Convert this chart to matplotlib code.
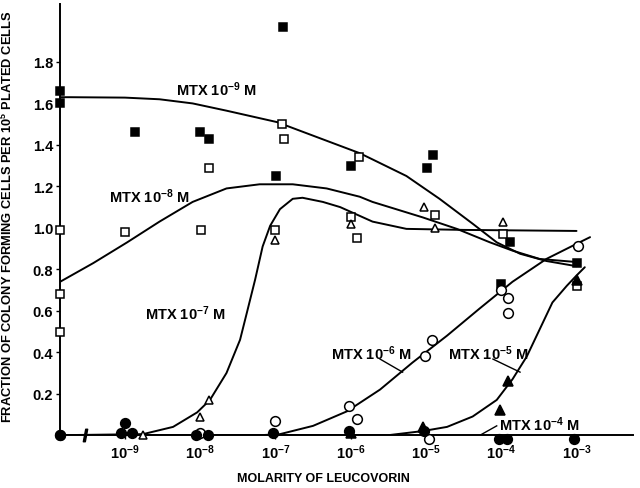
import numpy as np
import matplotlib
matplotlib.use("Agg")
import matplotlib.pyplot as plt

plt.rcParams['font.family'] = ['Liberation Sans', 'DejaVu Sans']
plt.rcParams['font.weight'] = 'bold'
plt.rcParams['axes.labelweight'] = 'bold'
plt.rcParams['mathtext.default'] = 'regular'

# x position used for the "no leucovorin" controls (drawn on the y axis)
ctrl = 10 ** -9.86

# measured points: (log10 molarity or None for control, fraction)
mtx9_x = [None, None, -8.87, -8.0, -7.88, -6.9, -6.99, -6.0, -4.91, -4.99, -3.89, -4.0, -3.0]
mtx9_y = [1.66, 1.60, 1.46, 1.46, 1.43, 1.97, 1.25, 1.30, 1.35, 1.29, 0.93, 0.73, 0.83]

mtx8_x = [None, None, None, -9.0, -7.99, -7.88, -6.91, -6.89, -7.0, -5.89, -6.0, -5.92, -4.88, -3.98, -3.0]
mtx8_y = [0.99, 0.68, 0.50, 0.98, 0.99, 1.29, 1.50, 1.43, 0.99, 1.34, 1.05, 0.95, 1.06, 0.97, 0.72]

mtx7_x = [-7.0, -7.88, -8.0, -8.76, -6.0, -5.02, -4.88, -3.98]
mtx7_y = [0.94, 0.17, 0.09, 0.0, 1.02, 1.10, 1.0, 1.03]

mtx6_x = [None, -7.0, -8.0, -6.02, -5.92, -4.92, -5.01, -4.0, -3.91, -3.91, -2.98, -4.96]
mtx6_y = [0.0, 0.07, 0.01, 0.14, 0.08, 0.46, 0.38, 0.70, 0.66, 0.59, 0.91, -0.02]

mtx5_x = [-3.91, -4.02, -3.0, -5.04, -6.0]
mtx5_y = [0.26, 0.12, 0.75, 0.04, 0.01]

mtx4_x = [None, -9.0, -8.9, -9.05, -8.05, -7.9, -7.03, -6.02, -5.03, -4.03, -3.93, -3.03]
mtx4_y = [0.0, 0.06, 0.01, 0.01, 0.0, 0.0, 0.01, 0.02, 0.02, -0.02, -0.02, -0.02]

# fitted curves (log10 molarity, fraction)
c9_x = [-9.86, -9.73, -9.0, -8.54, -8.10, -7.65, -6.98, -6.32, -5.88, -5.71, -5.26, -4.82, -4.38, -4.06, -3.75, -3.40, -3.0]
c9_y = [1.63, 1.63, 1.628, 1.62, 1.60, 1.565, 1.51, 1.42, 1.36, 1.33, 1.25, 1.14, 1.02, 0.93, 0.875, 0.84, 0.815]

c8_x = [-9.86, -9.42, -8.97, -8.54, -8.10, -7.65, -7.21, -6.77, -6.32, -5.88, -5.71, -5.04, -4.59, -4.15, -3.85, -3.49, -3.0]
c8_y = [0.74, 0.83, 0.93, 1.03, 1.125, 1.19, 1.21, 1.21, 1.19, 1.15, 1.125, 1.05, 0.995, 0.93, 0.89, 0.85, 0.835]

c7_x = [-9.86, -8.76, -8.36, -8.04, -7.87, -7.65, -7.47, -7.38, -7.27, -7.17, -7.07, -6.94, -6.77, -6.64,
        -6.37, -6.14, -5.71, -5.26, -4.5, -3.0]
c7_y = [0.0, 0.005, 0.04, 0.11, 0.17, 0.30, 0.46, 0.59, 0.75, 0.91, 1.01, 1.09, 1.14, 1.145,
        1.125, 1.10, 1.03, 0.995, 0.99, 0.985]

c6_x = [-9.86, -7.2, -6.94, -6.50, -6.05, -5.61, -5.18, -4.72, -4.29, -3.85, -3.40, -2.96, -2.82]
c6_y = [0.0, 0.0, 0.005, 0.045, 0.115, 0.22, 0.35, 0.48, 0.61, 0.74, 0.85, 0.93, 0.955]

c5_x = [-9.86, -5.5, -5.04, -4.72, -4.38, -4.06, -3.85, -3.66, -3.49, -3.32, -3.13, -3.0, -2.89]
c5_y = [0.0, 0.0, 0.02, 0.04, 0.09, 0.17, 0.27, 0.38, 0.51, 0.64, 0.72, 0.77, 0.81]

c4_x = [-9.86, -6.0, -4.0, -3.0, -2.25]
c4_y = [0.0, 0.0, -0.01, -0.015, -0.02]

xtick_pos = [-9, -8, -7, -6, -5, -4, -3]
ytick_pos = [0.2, 0.4, 0.6, 0.8, 1.0, 1.2, 1.4, 1.6, 1.8]


def to_x(vals):
    return [ctrl if v is None else 10 ** v for v in vals]


fig = plt.figure(figsize=(6.4, 4.89), dpi=100)
ax = fig.add_axes([0.094, 0.108, 0.895, 0.882])

lw = 1.4
for cx, cy in [(c9_x, c9_y), (c8_x, c8_y), (c7_x, c7_y), (c6_x, c6_y), (c5_x, c5_y), (c4_x, c4_y)]:
    ax.plot(to_x(cx), cy, color='black', lw=lw, solid_capstyle='round', solid_joinstyle='round')

ms = 6
kw = dict(linestyle='none', clip_on=False, markeredgewidth=1.1, zorder=5)
ax.plot(to_x(mtx9_x), mtx9_y, marker='s', ms=ms, mfc='black', mec='black', **kw)
ax.plot(to_x(mtx8_x), mtx8_y, marker='s', ms=ms, mfc='white', mec='black', **kw)
ax.plot(to_x(mtx7_x), mtx7_y, marker='^', ms=ms, mfc='white', mec='black', **kw)
ax.plot(to_x(mtx6_x), mtx6_y, marker='o', ms=ms + 1, mfc='white', mec='black', **kw)
ax.plot(to_x(mtx5_x), mtx5_y, marker='^', ms=ms + 1, mfc='black', mec='black', **kw)
ax.plot(to_x(mtx4_x), mtx4_y, marker='o', ms=ms + 1, mfc='black', mec='black', **kw)

# axis break on the x axis
ax.plot([10 ** -9.53], [0], marker=r'$/$', ms=9, color='black', clip_on=False, zorder=6)

fs = 10.5
ax.text(10 ** -7.79, 1.67, 'MTX 10$^{-9}$ M', fontsize=fs, ha='center', va='center')
ax.text(10 ** -8.68, 1.155, 'MTX 10$^{-8}$ M', fontsize=fs, ha='center', va='center')
ax.text(10 ** -8.19, 0.59, 'MTX 10$^{-7}$ M', fontsize=fs, ha='center', va='center')
ax.text(10 ** -5.72, 0.40, 'MTX 10$^{-6}$ M', fontsize=fs, ha='center', va='center')
ax.text(10 ** -4.17, 0.40, 'MTX 10$^{-5}$ M', fontsize=fs, ha='center', va='center')
ax.text(10 ** -3.5, 0.053, 'MTX 10$^{-4}$ M', fontsize=fs, ha='center', va='center')

# leader lines from labels to curves
ax.plot([10 ** -5.61, 10 ** -5.31], [0.367, 0.304], color='black', lw=1.0)
ax.plot([10 ** -4.11, 10 ** -3.75], [0.367, 0.304], color='black', lw=1.0)
ax.plot([10 ** -4.06, 10 ** -4.33], [0.045, -0.01], color='black', lw=1.0)

ax.set_xscale('log')
ax.set_xlim(ctrl, 10 ** -2.25)
ax.set_ylim(0, 2.08)

ax.set_xticks([10 ** p for p in xtick_pos])
ax.set_xticklabels(['10$^{%d}$' % p for p in xtick_pos], fontsize=fs)
ax.xaxis.set_minor_locator(matplotlib.ticker.NullLocator())
ax.set_yticks(ytick_pos)
ax.set_yticklabels(['%.1f' % v for v in ytick_pos], fontsize=fs)
ax.tick_params(axis='both', direction='out', length=3, width=1.0, pad=2)

for s in ['top', 'right']:
    ax.spines[s].set_visible(False)
ax.spines['left'].set_linewidth(1.4)
ax.spines['bottom'].set_linewidth(1.4)

ax.set_xlabel('MOLARITY OF LEUCOVORIN', fontsize=9.0, fontweight='bold')
ax.xaxis.set_label_coords(0.46, -0.085)
ax.set_ylabel('FRACTION OF COLONY FORMING CELLS PER 10$^{5}$ PLATED CELLS', fontsize=9.3, fontweight='bold')
ax.yaxis.set_label_coords(-0.078, 0.51)

fig.savefig('out.png', dpi=100)
